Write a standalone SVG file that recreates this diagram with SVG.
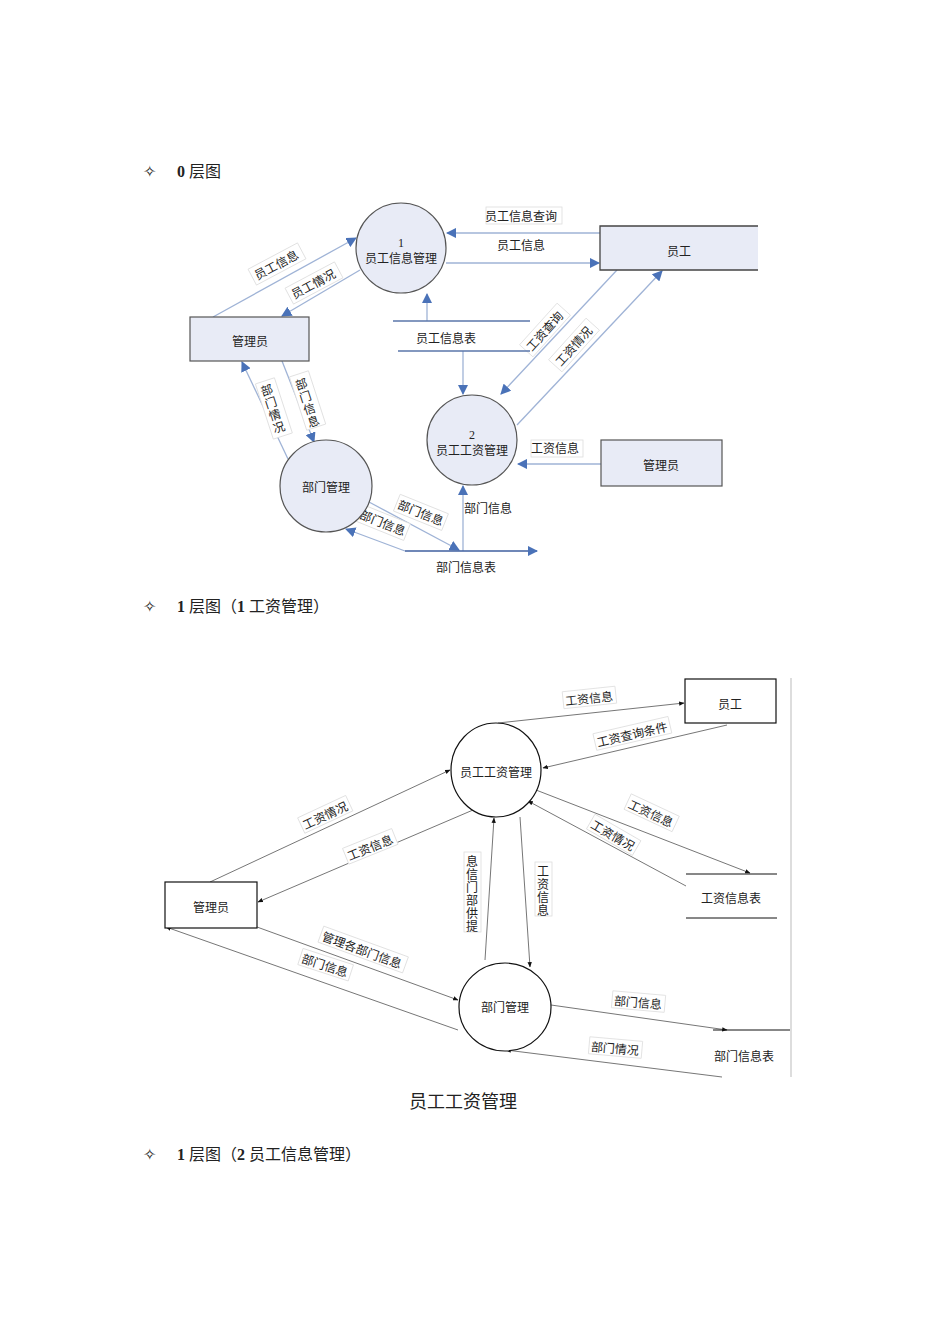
<svg xmlns="http://www.w3.org/2000/svg" width="950" height="1344" viewBox="0 0 950 1344">
<style>
text{font-family:"Liberation Serif","Noto Sans CJK SC",serif;font-size:12px;fill:#222}
.h{font-size:16px}
.b{font-weight:bold}
.n1{fill:#e8ebf6;stroke:#555;stroke-width:1.2}
.c1{stroke:#9fb3d6;stroke-width:1.3;fill:none}
.t1{stroke:#3f5f9f;stroke-width:1.3;fill:none}
.n2{fill:#fff;stroke:#111;stroke-width:1.2}
.c2{stroke:#666;stroke-width:0.9;fill:none}
.lb{fill:#fff;stroke:#ddd;stroke-width:0.8}
</style>
<defs>
<marker id="a1" viewBox="0 0 10 10" refX="9" refY="5" markerWidth="8" markerHeight="8" orient="auto"><path d="M0,0L10,5L0,10z" fill="#4a72b8"/></marker>
<marker id="a2" viewBox="0 0 10 10" refX="9" refY="5" markerWidth="6" markerHeight="6" orient="auto"><path d="M0,1L10,5L0,9z" fill="#111"/></marker>
</defs>
<rect width="950" height="1344" fill="#fff"/>
<text x="143" y="177" class="h">✧</text><text x="177" y="177" class="h"><tspan class="b">0</tspan> 层图</text>
<text x="143" y="612" class="h">✧</text><text x="177" y="612" class="h"><tspan class="b">1</tspan> 层图（<tspan class="b">1</tspan> 工资管理）</text>
<text x="143" y="1160" class="h">✧</text><text x="177" y="1160" class="h"><tspan class="b">1</tspan> 层图（<tspan class="b">2</tspan> 员工信息管理）</text>
<text x="463" y="1108" class="h" text-anchor="middle" style="font-size:18px">员工工资管理</text>

<g id="conn0">
<line class="c1" x1="600" y1="233" x2="447" y2="233" marker-end="url(#a1)"/>
<line class="c1" x1="446" y1="263" x2="599" y2="263" marker-end="url(#a1)"/>
<line class="c1" x1="213" y1="317" x2="356" y2="238" marker-end="url(#a1)"/>
<line class="c1" x1="360" y1="270" x2="282" y2="316" marker-end="url(#a1)"/>
<line class="c1" x1="427" y1="321" x2="427" y2="294" marker-end="url(#a1)"/>
<line class="c1" x1="463" y1="351" x2="463" y2="394" marker-end="url(#a1)"/>
<line class="c1" x1="617" y1="270" x2="501" y2="394" marker-end="url(#a1)"/>
<line class="c1" x1="517" y1="425" x2="662" y2="271" marker-end="url(#a1)"/>
<line class="c1" x1="601" y1="464" x2="518" y2="464" marker-end="url(#a1)"/>
<line class="c1" x1="282" y1="361" x2="314" y2="442" marker-end="url(#a1)"/>
<line class="c1" x1="288" y1="459" x2="242" y2="362" marker-end="url(#a1)"/>
<line class="c1" x1="369" y1="502" x2="459" y2="550" marker-end="url(#a1)"/>
<line class="c1" x1="405" y1="551" x2="346" y2="529" marker-end="url(#a1)"/>
<line class="c1" x1="463" y1="551" x2="463" y2="486" marker-end="url(#a1)"/>
<line class="t1" x1="405" y1="551" x2="537" y2="551" marker-end="url(#a1)"/>
</g>
<g id="labels0">
<rect class="lb" x="486" y="207" width="76" height="17"/><text x="485" y="221">员工信息查询</text>
<text x="497" y="250">员工信息</text>
<g transform="rotate(-28 277 264)"><rect class="lb" x="249" y="255" width="56" height="18"/><text x="252" y="269">员工信息</text></g>
<g transform="rotate(-28 314 283)"><rect class="lb" x="286" y="274" width="56" height="18"/><text x="289" y="288">员工情况</text></g>
<g transform="rotate(-48 545 330)"><rect class="lb" x="517" y="321" width="56" height="18"/><text x="520" y="335">工资查询</text></g>
<g transform="rotate(-48 574 345)"><rect class="lb" x="546" y="336" width="56" height="18"/><text x="549" y="350">工资情况</text></g>
<rect class="lb" x="531" y="440" width="52" height="17"/><text x="531" y="453">工资信息</text>
<g transform="rotate(-18 278 405)"><rect class="lb" x="263" y="378" width="20" height="58"/><text x="266" y="392">部</text><text x="266" y="405">门</text><text x="266" y="418">情</text><text x="266" y="431">况</text></g>
<g transform="rotate(-18 312 398)"><rect class="lb" x="297" y="371" width="20" height="56"/><text x="300" y="386">部</text><text x="300" y="399">门</text><text x="300" y="412">信</text><text x="300" y="425">息</text></g>
<g transform="rotate(22 420 512)"><rect class="lb" x="395" y="503" width="52" height="18"/><text x="397" y="517">部门信息</text></g>
<g transform="rotate(22 382 522)"><rect class="lb" x="357" y="513" width="52" height="18"/><text x="359" y="527">部门信息</text></g>
<text x="464" y="513">部门信息</text>
<text x="436" y="572">部门信息表</text>
</g>
<g id="store0">
<line x1="393" y1="321" x2="530" y2="321" stroke="#5a76aa" stroke-width="1.3"/>
<line x1="398" y1="351" x2="530" y2="351" stroke="#5a76aa" stroke-width="1.3"/>
<text x="416" y="343">员工信息表</text>
</g>
<g id="p1"><circle class="n1" cx="401" cy="248" r="45"/><text x="401" y="247" text-anchor="middle">1</text><text x="401" y="263" text-anchor="middle">员工信息管理</text></g>
<g id="p2"><circle class="n1" cx="472" cy="440" r="45"/><text x="472" y="439" text-anchor="middle">2</text><text x="472" y="455" text-anchor="middle">员工工资管理</text></g>
<g id="p3"><circle class="n1" cx="326" cy="486" r="46"/><text x="326" y="492" text-anchor="middle">部门管理</text></g>
<g id="e1"><rect x="600" y="226" width="158" height="44" fill="#e8ebf6"/><path d="M758,226H600V270H758" fill="none" stroke="#444" stroke-width="1.3"/><text x="679" y="256" text-anchor="middle">员工</text></g>
<g id="e2"><rect class="n1" x="190" y="317" width="119" height="44"/><text x="250" y="346" text-anchor="middle">管理员</text></g>
<g id="e3"><rect class="n1" x="601" y="440" width="121" height="46"/><text x="661" y="470" text-anchor="middle">管理员</text></g>

<g id="conn1">
<line class="c2" x1="498" y1="723" x2="684" y2="703" marker-end="url(#a2)"/>
<line class="c2" x1="727" y1="725" x2="543" y2="768" marker-end="url(#a2)"/>
<line class="c2" x1="210" y1="882" x2="450" y2="770" marker-end="url(#a2)"/>
<line class="c2" x1="473" y1="810" x2="258" y2="902" marker-end="url(#a2)"/>
<line class="c2" x1="536" y1="790" x2="750" y2="873" marker-end="url(#a2)"/>
<line class="c2" x1="686" y1="886" x2="528" y2="801" marker-end="url(#a2)"/>
<line class="c2" x1="485" y1="960" x2="494" y2="818" marker-end="url(#a2)"/>
<line class="c2" x1="520" y1="817" x2="530" y2="967" marker-end="url(#a2)"/>
<line class="c2" x1="257" y1="927" x2="458" y2="1000" marker-end="url(#a2)"/>
<line class="c2" x1="458" y1="1030" x2="166" y2="927" marker-end="url(#a2)"/>
<line class="c2" x1="551" y1="1005" x2="727" y2="1030" marker-end="url(#a2)"/>
<line class="c2" x1="722" y1="1077" x2="506" y2="1050" marker-end="url(#a2)"/>
<line x1="791" y1="678" x2="791" y2="1077" stroke="#aaa" stroke-width="0.8"/>
</g>
<g id="labels1">
<g transform="rotate(-6 589 698)"><rect class="lb" x="563" y="689" width="53" height="17"/><text x="565" y="703">工资信息</text></g>
<g transform="rotate(-13 632 734)"><rect class="lb" x="594" y="725" width="77" height="17"/><text x="596" y="739">工资查询条件</text></g>
<g transform="rotate(-25 325 815)"><rect class="lb" x="299" y="806" width="53" height="17"/><text x="301" y="820">工资情况</text></g>
<g transform="rotate(-22 370 847)"><rect class="lb" x="344" y="838" width="53" height="17"/><text x="346" y="852">工资信息</text></g>
<g transform="rotate(25 651 813)"><rect class="lb" x="625" y="804" width="53" height="17"/><text x="627" y="818">工资信息</text></g>
<g transform="rotate(30 613 835)"><rect class="lb" x="587" y="826" width="53" height="17"/><text x="589" y="840">工资情况</text></g>
<rect class="lb" x="464" y="852" width="17" height="80"/><text x="466" y="866">息</text><text x="466" y="879">信</text><text x="466" y="892">门</text><text x="466" y="905">部</text><text x="466" y="918">供</text><text x="466" y="931">提</text>
<rect class="lb" x="535" y="862" width="17" height="54"/><text x="537" y="876">工</text><text x="537" y="889">资</text><text x="537" y="902">信</text><text x="537" y="915">息</text>
<g transform="rotate(20 363 950)"><rect class="lb" x="318" y="941" width="90" height="17"/><text x="320" y="955">管理各部门信息</text></g>
<g transform="rotate(18 325 965)"><rect class="lb" x="299" y="956" width="53" height="17"/><text x="301" y="970">部门信息</text></g>
<g transform="rotate(5 638 1002)"><rect class="lb" x="612" y="993" width="53" height="17"/><text x="614" y="1007">部门信息</text></g>
<g transform="rotate(5 615 1048)"><rect class="lb" x="589" y="1039" width="53" height="17"/><text x="591" y="1053">部门情况</text></g>
</g>
<g id="s1"><line x1="686" y1="874" x2="777" y2="874" stroke="#111"/><line x1="686" y1="918" x2="777" y2="918" stroke="#111"/><text x="731" y="903" text-anchor="middle">工资信息表</text></g>
<g id="s2"><line x1="713" y1="1030" x2="790" y2="1030" stroke="#111"/><text x="744" y="1061" text-anchor="middle">部门信息表</text></g>
<g id="q1"><ellipse class="n2" cx="496" cy="770" rx="45" ry="47"/><text x="496" y="777" text-anchor="middle">员工工资管理</text></g>
<g id="q2"><ellipse class="n2" cx="505" cy="1007" rx="46" ry="44"/><text x="505" y="1012" text-anchor="middle">部门管理</text></g>
<g id="f1"><rect class="n2" x="685" y="679" width="91" height="44"/><text x="730" y="709" text-anchor="middle">员工</text></g>
<g id="f2"><rect class="n2" x="165" y="882" width="92" height="46"/><text x="211" y="912" text-anchor="middle">管理员</text></g>
</svg>
